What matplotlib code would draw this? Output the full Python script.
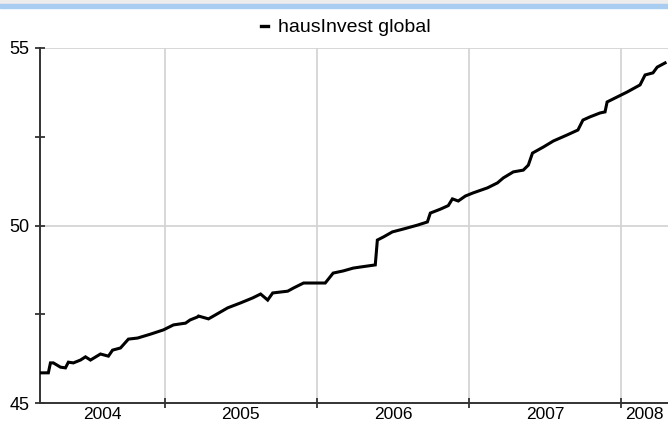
import numpy as np
import pandas as pd
import matplotlib
matplotlib.use("Agg")
import matplotlib.pyplot as plt
from matplotlib.patches import Rectangle

plt.rcParams['font.family'] = ['Liberation Sans', 'DejaVu Sans']

# fund price
dates = pd.to_datetime([
    "2004-03-08", "2004-03-28", "2004-04-02", "2004-04-09", "2004-04-26", "2004-05-08",
    "2004-05-15", "2004-05-27", "2004-06-13", "2004-06-25", "2004-07-07", "2004-07-31",
    "2004-08-19", "2004-08-29", "2004-09-17", "2004-10-06", "2004-10-28", "2004-11-28",
    "2004-12-29", "2005-01-22", "2005-02-20", "2005-03-03", "2005-03-20", "2005-03-23",
    "2005-04-16", "2005-04-28", "2005-06-01", "2005-07-02", "2005-07-31", "2005-08-19",
    "2005-09-05", "2005-09-17", "2005-10-23", "2005-11-06", "2005-11-30", "2006-01-02",
    "2006-01-21", "2006-02-09", "2006-03-05", "2006-03-29", "2006-04-15", "2006-05-21",
    "2006-05-26", "2006-06-10", "2006-07-01", "2006-07-27", "2006-08-30", "2006-09-23",
    "2006-09-30", "2006-10-24", "2006-11-12", "2006-11-22", "2006-12-06", "2006-12-23",
    "2007-01-11", "2007-02-14", "2007-03-10", "2007-03-24", "2007-04-17", "2007-05-11",
    "2007-05-23", "2007-06-02", "2007-06-28", "2007-07-22", "2007-08-24", "2007-09-19",
    "2007-10-01", "2007-10-18", "2007-11-11", "2007-11-23", "2007-11-28", "2007-12-22",
    "2008-01-15", "2008-02-15", "2008-02-27", "2008-03-17", "2008-03-27", "2008-04-15",
])
prices = [
    45.85, 45.85, 46.13, 46.13, 46.01, 45.99,
    46.15, 46.13, 46.21, 46.30, 46.21, 46.38,
    46.32, 46.49, 46.55, 46.80, 46.83, 46.94,
    47.06, 47.20, 47.25, 47.34, 47.42, 47.45,
    47.37, 47.45, 47.68, 47.82, 47.96, 48.07,
    47.90, 48.10, 48.15, 48.24, 48.38, 48.38,
    48.38, 48.66, 48.72, 48.80, 48.83, 48.89,
    49.59, 49.68, 49.82, 49.90, 50.01, 50.10,
    50.35, 50.46, 50.56, 50.75, 50.69, 50.83,
    50.92, 51.06, 51.20, 51.34, 51.51, 51.56,
    51.70, 52.04, 52.21, 52.38, 52.55, 52.69,
    52.97, 53.06, 53.17, 53.20, 53.48, 53.62,
    53.76, 53.96, 54.24, 54.30, 54.46, 54.58,
]
years = [2004, 2005, 2006, 2007, 2008]
x_start, x_end = pd.Timestamp("2004-03-08"), pd.Timestamp("2008-04-22")

fig = plt.figure(figsize=(6.68, 4.24), dpi=100)
# window chrome at the top
fig.patches.append(Rectangle((0, 0.990), 1, 0.010, transform=fig.transFigure,
                             color='#ececec', zorder=0))
fig.patches.append(Rectangle((0, 0.980), 1, 0.010, transform=fig.transFigure,
                             color='#a8cdf0', zorder=0))

ax = fig.add_axes([0.0599, 0.0495, 0.9401, 0.8373])
ax.plot(dates, prices, color='black', linewidth=2.2, label='hausInvest global',
        solid_joinstyle='miter', zorder=3)

# year boundaries: gridlines + tick marks, labels centred in the visible span
bounds = [pd.Timestamp(f"{y}-01-01") for y in years[1:]]
ax.set_xticks(bounds)
ax.set_xticklabels([])
edges = [x_start] + bounds + [x_end]
mids = [edges[i] + (edges[i + 1] - edges[i]) / 2 for i in range(len(years))]
ax.set_xticks(mids, minor=True)
ax.set_xticklabels([str(y) for y in years], minor=True)
ax.tick_params(axis='x', which='major', direction='inout', length=7, width=1.3,
               color='#333333')
ax.tick_params(axis='x', which='minor', length=0, labelsize=12.5, pad=3)

ax.set_yticks([45, 47.5, 50, 52.5, 55])
ax.set_yticklabels(['45', '', '50', '', '55'])
ax.tick_params(axis='y', direction='inout', length=7, width=1.3, color='#333333',
               labelsize=13, pad=4)

ax.set_xlim(x_start, x_end)
ax.set_ylim(45, 55)

ax.grid(True, axis='x', which='major', color='#d4d4d4', linewidth=1.3)
for yv in [50, 55]:
    ax.axhline(yv, color='#d4d4d4', linewidth=1.3, zorder=1)

for side in ['top', 'right']:
    ax.spines[side].set_visible(False)
for side in ['left', 'bottom']:
    ax.spines[side].set_color('#333333')
    ax.spines[side].set_linewidth(1.4)

leg = fig.legend(loc='center', bbox_to_anchor=(0.518, 0.935), frameon=False,
                 handlelength=0.36, handletextpad=0.5, fontsize=14)
for h in leg.get_lines():
    h.set_linewidth(2.4)

fig.savefig('out.png', dpi=100)
